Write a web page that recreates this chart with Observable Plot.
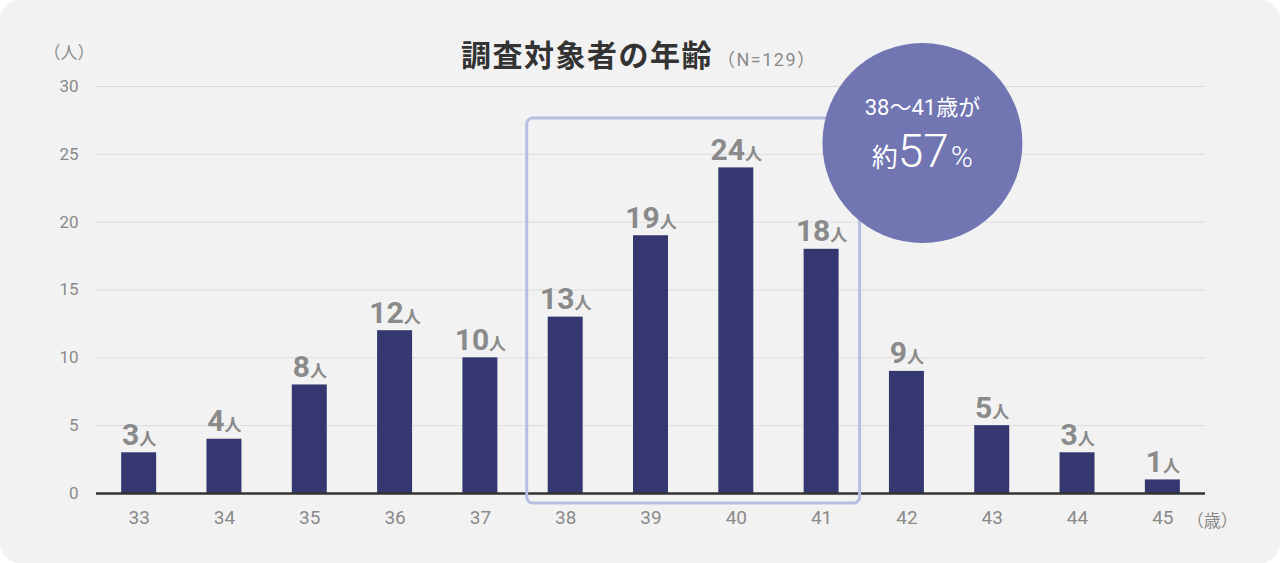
<!DOCTYPE html>
<html>
<head>
<meta charset="utf-8">
<script src="https://cdn.jsdelivr.net/npm/d3@7"></script>
<script src="https://cdn.jsdelivr.net/npm/@observablehq/plot@0.6"></script>
<style>
  html, body { margin: 0; padding: 0; background: #ffffff; }
  #card { width: 1280px; height: 563px; background: #f2f2f2; border-radius: 20px; overflow: hidden; position: relative; }
  #card svg { display: block; }
</style>
</head>
<body>
<div id="card"></div>
<script>
// ---- data ----
const ages = [33, 34, 35, 36, 37, 38, 39, 40, 41, 42, 43, 44, 45];
const counts = [3, 4, 8, 12, 10, 13, 19, 24, 18, 9, 5, 3, 1];
const yTicks = [0, 5, 10, 15, 20, 25, 30];
const highlightRange = [38, 41];
const titleText = "調査対象者の年齢";
const sampleText = "（N=129）";
const yUnit = "（人）";
const xUnit = "（歳）";
const valueUnit = "人";
const calloutLine1 = "38〜41歳が";
const calloutPrefix = "約";
const calloutValue = "57";
const calloutSuffix = "%";

const data = ages.map((a, i) => ({age: a, count: counts[i]}));
const FONT = "Roboto, 'Noto Sans CJK JP', sans-serif";

const chart = Plot.plot({
  width: 1280,
  height: 563,
  marginLeft: 96,
  marginRight: 75,
  marginTop: 86,
  marginBottom: 70,
  style: {fontFamily: FONT, background: "transparent", overflow: "visible"},
  x: {type: "band", domain: ages, paddingInner: 0.59, paddingOuter: 0.295, round: false},
  y: {domain: [0, 30], ticks: yTicks},
  marks: [
    Plot.gridY(yTicks, {stroke: "#dcdcdc", strokeOpacity: 1, strokeWidth: 1}),
    Plot.axisY(yTicks, {tickSize: 0, tickPadding: 18, fontSize: 17, color: "#8a8a8a", label: null}),
    Plot.axisX({tickSize: 0, tickPadding: 17, fontSize: 19, color: "#8a8a8a", label: null}),
    Plot.barY(data, {x: "age", y: "count", fill: "#343770"}),
    Plot.ruleY([0], {stroke: "#333333", strokeWidth: 2.5}),
    Plot.text(data, {x: "age", y: "count", text: d => String(d.count), lineAnchor: "bottom", dy: -8,
      fill: "#8a8a8a", fontSize: 30, fontWeight: "bold"})
  ]
});

document.getElementById("card").appendChild(chart);

const svg = d3.select(chart);
// add unit tspans to value labels
svg.selectAll('g[aria-label="text"] text').each(function() {
  d3.select(this).append("tspan").attr("font-size", 17).attr("font-weight", "bold").text(valueUnit);
});

const X = chart.scale("x");
const Y = chart.scale("y");
const bw = X.bandwidth;

// highlight rectangle
const hx0 = X.apply(highlightRange[0]) - 21;
const hx1 = X.apply(highlightRange[1]) + bw + 21;
const hy0 = Y.apply(30) + 32;
const hy1 = Y.apply(0) + 10;
svg.append("rect")
  .attr("x", hx0).attr("y", hy0).attr("width", hx1 - hx0).attr("height", hy1 - hy0)
  .attr("rx", 6).attr("fill", "none").attr("stroke", "#b7bfe0").attr("stroke-width", 3);

// callout circle
const cx = X.apply(42) + bw / 2 + 16;
const cy = Y.apply(30) + 57;
svg.append("circle").attr("cx", cx).attr("cy", cy).attr("r", 100).attr("fill", "#7175b1");
svg.append("text").attr("x", cx).attr("y", cy - 28).attr("text-anchor", "middle")
  .attr("fill", "#fff").attr("font-size", 22).attr("font-family", FONT).text(calloutLine1);
const t2 = svg.append("text").attr("x", cx).attr("y", cy + 24).attr("text-anchor", "middle")
  .attr("fill", "#fff").attr("font-family", FONT);
t2.append("tspan").attr("font-size", 26).text(calloutPrefix);
t2.append("tspan").attr("font-size", 46).attr("font-weight", 300).text(calloutValue);
t2.append("tspan").attr("font-size", 30).attr("font-weight", 300).attr("dx", 2).text(calloutSuffix);

// title
const tt = svg.append("text").attr("x", 461).attr("y", 66).attr("text-anchor", "start").attr("font-family", FONT);
tt.append("tspan").attr("font-size", 30).attr("font-weight", "bold").attr("fill", "#333").attr("letter-spacing", 1.5).text(titleText);
tt.append("tspan").attr("font-size", 18).attr("fill", "#8a8a8a").attr("dx", 4).attr("letter-spacing", 1.5).text(sampleText);

// unit labels
svg.append("text").attr("x", 69).attr("y", 59).attr("text-anchor", "middle")
  .attr("font-size", 17).attr("fill", "#8a8a8a").attr("font-family", FONT).text(yUnit);
svg.append("text").attr("x", X.apply(45) + bw / 2 + 50).attr("y", 527).attr("text-anchor", "middle")
  .attr("font-size", 17).attr("fill", "#8a8a8a").attr("font-family", FONT).text(xUnit);
</script>
</body>
</html>
